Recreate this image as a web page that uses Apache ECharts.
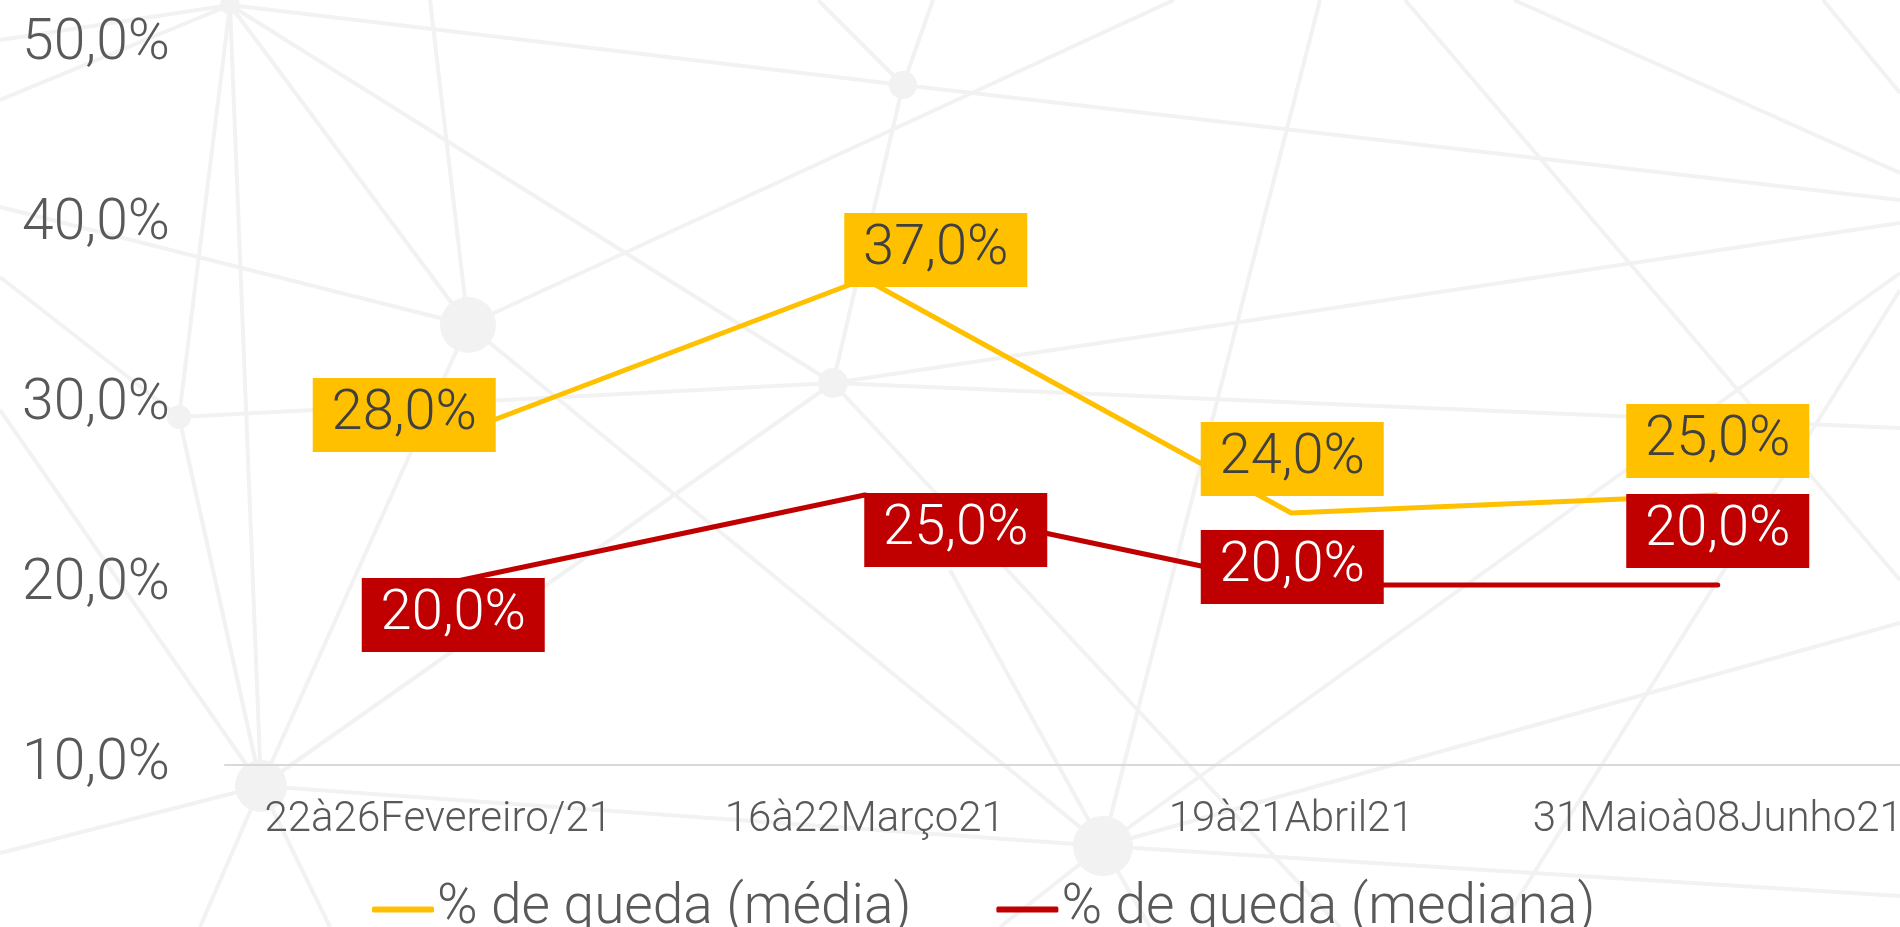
<!DOCTYPE html>
<html>
<head>
<meta charset="utf-8">
<script src="https://cdn.jsdelivr.net/npm/echarts@6/dist/echarts.min.js"></script>
<style>
  html, body { margin: 0; padding: 0; background: #fff; }
  #main { width: 1900px; height: 927px; }
</style>
</head>
<body>
<div id="main"></div>
<script>
var categorias = ['22à26Fevereiro/21', '16à22Março21', '19à21Abril21', '31Maioà08Junho21'];
var quedaMedia = [28, 37, 24, 25];
var quedaMediana = [20, 25, 20, 20];
var nomes = ['% de queda (média)', '% de queda (mediana)'];

// where each value box sits relative to its point (px)
var offsetMedia = [[-34, -26], [71, -29], [1, -54], [0, -54]];
var offsetMediana = [[15, 30], [91, 35], [1, -18], [0, -54]];

// decorative "network" picture behind the chart (not data)
var nos = [[230, 5, 10], [468, 325, 28], [903, 85, 14], [179, 417, 12], [833, 383, 15], [261, 786, 26], [1103, 846, 30]];
var arestas = [
    [230, 5, 0, 100], [230, 5, 903, 85], [230, 5, 468, 325], [230, 5, 833, 383], [230, 5, 179, 417], [230, 5, 261, 786],
    [430, 0, 468, 325], [0, 207, 468, 325], [468, 325, 1174, 0], [468, 325, 261, 786], [468, 325, 1103, 846],
    [903, 85, 833, 383], [903, 85, 1900, 200], [903, 85, 818, 0], [903, 85, 933, 0],
    [179, 417, 833, 383], [833, 383, 1900, 223], [833, 383, 1900, 428], [833, 383, 261, 786], [833, 383, 1340, 927],
    [179, 417, 0, 277], [179, 417, 261, 786], [1320, 0, 1103, 846], [1405, 0, 1900, 580], [1514, 0, 1900, 173],
    [1823, 0, 1900, 93], [1900, 273, 1103, 846], [1900, 290, 1500, 927], [261, 786, 0, 853], [261, 786, 0, 410],
    [261, 786, 1103, 846], [261, 786, 200, 927], [261, 786, 330, 927], [1103, 846, 1900, 623], [1103, 846, 1900, 896],
    [1103, 846, 950, 570], [1103, 846, 1000, 927], [1103, 846, 1150, 927], [0, 40, 230, 5]
];

var fmt = function (v) { return v.toFixed(1).replace('.', ',') + '%'; };
var fonte = 'Roboto, "Liberation Sans", sans-serif';

function caixa(cor, corTexto) {
    return {
        show: true,
        position: 'inside',
        formatter: function (p) { return fmt(p.value); },
        backgroundColor: cor,
        color: corTexto,
        fontFamily: fonte,
        fontWeight: 300,
        fontSize: 56,
        lineHeight: 52,
        width: 155,
        height: 52,
        align: 'center',
        verticalAlign: 'middle',
        padding: [11, 14]
    };
}

function montar(vals, offs) {
    return vals.map(function (v, i) {
        return { value: v, label: { offset: offs[i] } };
    });
}

var fundo = [];
arestas.forEach(function (a) {
    fundo.push({ type: 'line', silent: true, z: -10, shape: { x1: a[0], y1: a[1], x2: a[2], y2: a[3] }, style: { stroke: '#f2f2f2', lineWidth: 4 } });
});
nos.forEach(function (n) {
    fundo.push({ type: 'circle', silent: true, z: -9, shape: { cx: n[0], cy: n[1], r: n[2] }, style: { fill: '#f2f2f2' } });
});

var myChart = echarts.init(document.getElementById('main'));
var option = {
    backgroundColor: '#fff',
    animation: false,
    graphic: { elements: fundo },
    grid: { left: 225, width: 1706, top: 45, bottom: 162, outerBoundsMode: 'none', containLabel: false },
    legend: {
        left: 367,
        top: 877,
        itemGap: 85,
        itemWidth: 62,
        itemHeight: 6,
        icon: 'roundRect',
        textStyle: { color: '#595959', fontSize: 55, fontFamily: fonte, fontWeight: 300, padding: [0, 0, 0, -2] },
        data: nomes
    },
    xAxis: {
        type: 'category',
        data: categorias,
        axisLine: { lineStyle: { color: '#d9d9d9', width: 2 } },
        axisTick: { show: false },
        axisLabel: { interval: 0, color: '#595959', fontSize: 42, fontFamily: fonte, fontWeight: 300, margin: 34 }
    },
    yAxis: {
        type: 'value',
        min: 10,
        max: 50,
        interval: 10,
        splitLine: { show: false },
        axisLabel: { color: '#595959', fontSize: 57, fontFamily: fonte, fontWeight: 300, margin: 55, formatter: fmt }
    },
    series: [
        {
            name: nomes[0],
            type: 'line',
            data: montar(quedaMedia, offsetMedia),
            symbol: 'circle',
            symbolSize: 0,
            showSymbol: true,
            lineStyle: { color: '#FFC000', width: 5 },
            itemStyle: { color: '#FFC000' },
            label: caixa('#FFC000', '#404040')
        },
        {
            name: nomes[1],
            type: 'line',
            data: montar(quedaMediana, offsetMediana),
            symbol: 'circle',
            symbolSize: 0,
            showSymbol: true,
            lineStyle: { color: '#C00000', width: 5, cap: 'round' },
            itemStyle: { color: '#C00000' },
            label: caixa('#C00000', '#ffffff')
        }
    ]
};
myChart.setOption(option);
</script>
</body>
</html>
